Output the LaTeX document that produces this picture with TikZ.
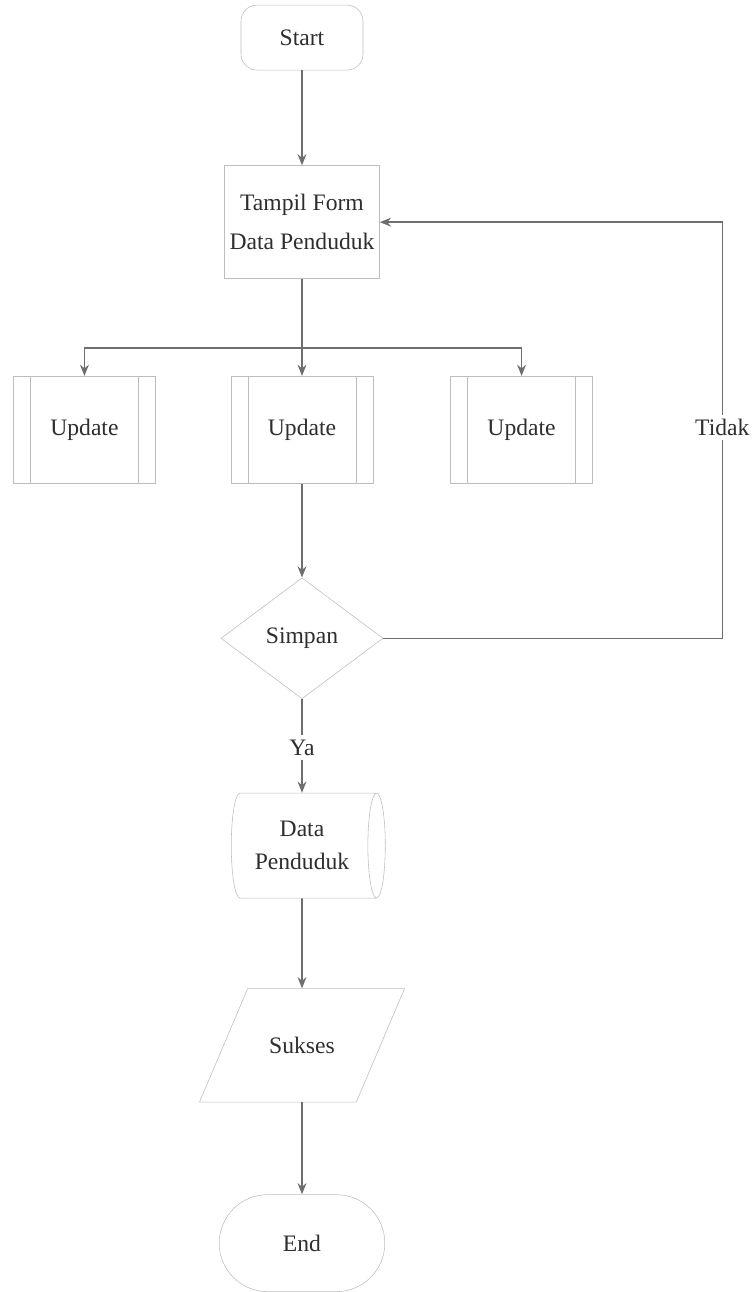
\documentclass[tikz,border=0pt]{standalone}
\usepackage{fontspec}
\setmainfont{Liberation Serif}
\usepackage{xcolor}
\usetikzlibrary{arrows.meta,
                positioning,
                shapes.geometric,
                shapes.misc}
\definecolor{boxgray}{HTML}{BDBDBD}
\definecolor{linegray}{HTML}{6E6E6E}
\definecolor{textgray}{HTML}{2E2E2E}
\tikzstyle{startbox} = [draw=boxgray, rectangle, rounded corners=0.4cm, text=textgray]
\tikzstyle{endbox} = [draw=boxgray, rounded rectangle, text=textgray]
\tikzstyle{process} = [draw=boxgray, rectangle, align=center, text=textgray]
\tikzstyle{subprocess} = [process, minimum width=3.55cm, minimum height=2.675cm,
    path picture={
      \draw[boxgray] ([xshift=0.43cm]path picture bounding box.north west) -- ([xshift=0.43cm]path picture bounding box.south west);
      \draw[boxgray] ([xshift=-0.43cm]path picture bounding box.north east) -- ([xshift=-0.43cm]path picture bounding box.south east);
    }]
\tikzstyle{decision} = [draw=boxgray, diamond, text=textgray]
\tikzstyle{database} = [draw=boxgray, cylinder, aspect=0.3, align=center, text=textgray]
\tikzstyle{io} = [draw=boxgray, trapezium, trapezium left angle=67, trapezium right angle=113,
    trapezium stretches body, inner ysep=1.21cm, text=textgray]
\tikzstyle{arrow} = [line width=1.1pt, draw=linegray, ->, >={Stealth[length=2.8mm,width=2.2mm]}]
\tikzstyle{line} = [line width=1.1pt, draw=linegray]

\begin{document}
\begin{tikzpicture}[font=\fontsize{16.8}{23.5}\selectfont]
    \useasboundingbox (0,0) rectangle (18.85,-32.3);

    \node[startbox, minimum width=3.05cm, minimum height=1.625cm] (start) at (7.55,-0.94) {Start};
    \node[process, minimum width=3.875cm, minimum height=2.825cm] (tampil) [below = 2.375cm of start] {Tampil Form\\[4pt]Data Penduduk};
    \node[subprocess] (upd2) [below = 2.425cm of tampil] {Update};
    \node[subprocess] (upd1) [left = 1.875cm of upd2] {Update};
    \node[subprocess] (upd3) [right = 1.925cm of upd2] {Update};
    \node[decision, minimum width=4.05cm, minimum height=3.025cm] (simpan) [below = 2.35cm of upd2] {Simpan};
    \node[text=textgray, inner sep=3pt] (ya) [below = 0.9cm of simpan] {Ya};
    \node[database, minimum width=2.625cm, minimum height=3.85cm] (data) [below = 0.825cm of ya] {Data\\Penduduk};
    \node[io, minimum width=5.125cm, minimum height=2.825cm] (sukses) [below = 2.25cm of data] {Sukses};
    \node[endbox, minimum width=4.375cm, minimum height=2.425cm] (end) [below = 2.3cm of sukses] {End};

    \coordinate[below = 1.725cm of tampil] (fork);
    \coordinate[right = 8.475cm of simpan] (back);

    \draw [arrow] (start) -- (tampil);
    \draw [arrow] (tampil) -- (upd2);
    \draw [arrow] (fork) -| (upd1);
    \draw [arrow] (fork) -| (upd3);
    \draw [arrow] (upd2) -- (simpan);
    \draw [line] (simpan) -- (ya);
    \draw [arrow] (ya) -- (data);
    \draw [arrow] (data) -- (sukses);
    \draw [arrow] (sukses) -- (end);
    \draw [arrow] (simpan.east) -- (back) |- node[pos=0.253, fill=white, text=textgray, inner sep=3pt] (tidak) {Tidak} (tampil.east);
\end{tikzpicture}
\end{document}
